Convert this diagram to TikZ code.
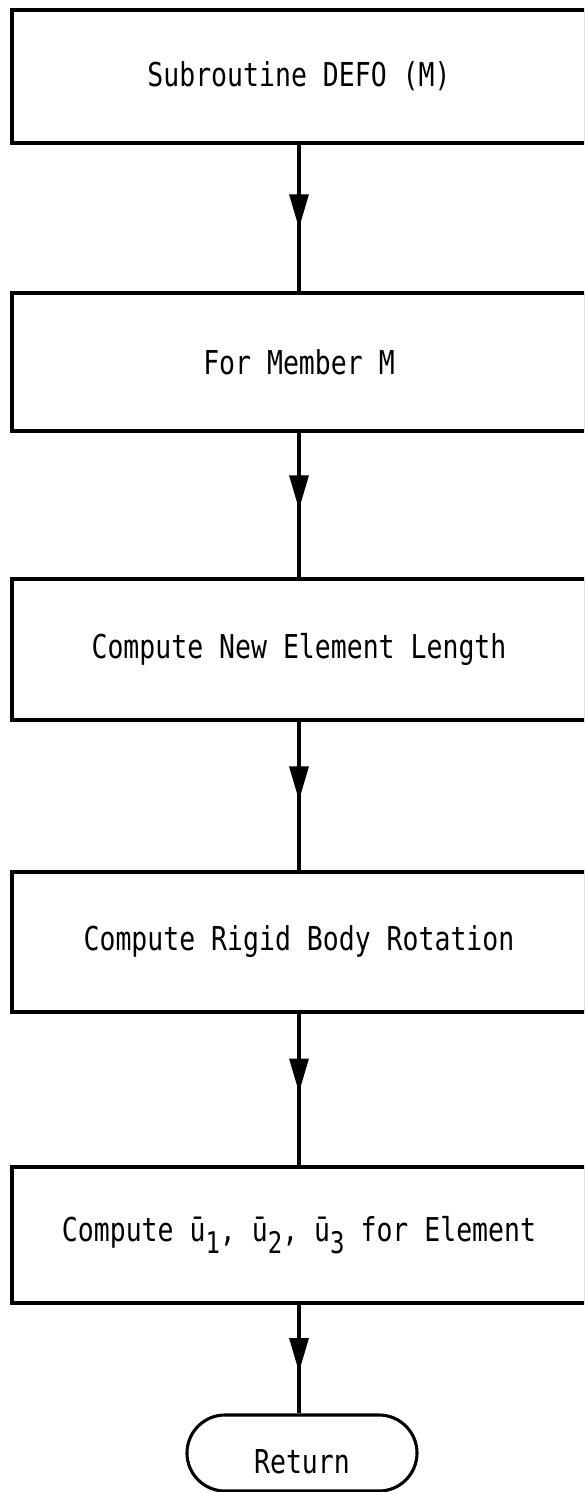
\documentclass[tikz,border=0pt]{standalone}
\usepackage{fontspec}
\usepackage{graphicx}
\setmonofont{DejaVu Sans Mono}
\usetikzlibrary{arrows.meta,decorations.markings,shapes.misc}
% typewriter lettering is taller than it is wide
\newcommand{\tallword}[1]{\scalebox{1}[1.24]{#1}}
\newcommand{\sub}[1]{\raisebox{-0.38em}{\fontsize{24}{24}\selectfont#1}}
\begin{document}
\begin{tikzpicture}[x=1pt,y=-1pt,
  lw/.style={line width=3.1pt},
  box/.style={draw, lw, minimum width=574pt, inner sep=0pt,
    font=\ttfamily\fontsize{26.5}{30}\selectfont},
  term/.style={draw, lw, rounded rectangle, minimum width=230pt, minimum height=76pt,
    inner sep=0pt, text height=40pt, text depth=0pt,
    font=\ttfamily\fontsize{26.5}{30}\selectfont},
  flow/.style={lw, postaction={decorate}, decoration={markings,
    mark=at position #1 with {\arrow{Triangle[width=19pt,length=34pt]}}}}
]
\useasboundingbox (0,0) rectangle (584,1492);
\fill[white] (0,0) rectangle (584,1492);
\clip (0,0) rectangle (584,1492);

% process boxes, each running off the right margin
\node[box, minimum height=133pt] (defo)  at (299,76.5) {\tallword{Subroutine DEFO (M)}};
\node[box, minimum height=138pt] (memb)  at (299,362)  {\tallword{For Member M}};
\node[box, minimum height=141pt] (len)   at (299,649.5){\tallword{Compute New Element Length}};
\node[box, minimum height=140pt] (rot)   at (299,942)  {\tallword{Compute Rigid Body Rotation}};
\node[box, minimum height=136pt] (ubar)  at (299,1235) {\tallword{Compute ū\sub{1}, ū\sub{2}, ū\sub{3} for Element}};
\node[term] (ret) at (302,1453) {\tallword{Return}};

% connectors with mid-line arrowheads
\draw[flow=0.57] (defo.south) -- (memb.north);
\draw[flow=0.53] (memb.south) -- (len.north);
\draw[flow=0.53] (len.south)  -- (rot.north);
\draw[flow=0.52] (rot.south)  -- (ubar.north);
\draw[flow=0.62] (ubar.south) -- (ubar.south |- ret.north);
\end{tikzpicture}
\end{document}
